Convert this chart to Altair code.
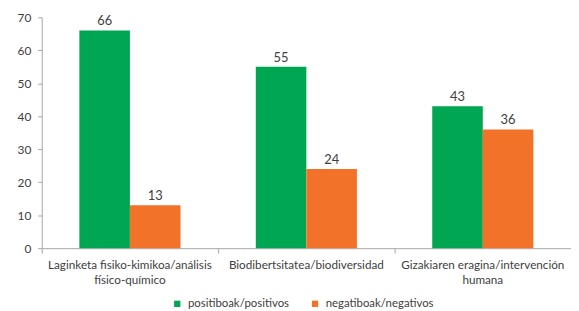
import altair as alt
import pandas as pd

categories = [
    "Laginketa fisiko-kimikoa/análisis\nfísico-químico",
    "Biodibertsitatea/biodiversidad",
    "Gizakiaren eragina/intervención\nhumana",
]
series = ["positiboak/positivos", "negatiboak/negativos"]
positive = [66, 55, 43]
negative = [13, 24, 36]
colors = ["#00A651", "#F37229"]

rows = []
for c, p, n in zip(categories, positive, negative):
    rows.append({"cat": c, "series": series[0], "value": p})
    rows.append({"cat": c, "series": series[1], "value": n})
df = pd.DataFrame(rows)

FONT = "Lato"
TXT = "#404040"

base = alt.Chart(df).encode(
    x=alt.X("cat:N", sort=categories, title=None,
            scale=alt.Scale(paddingInner=0, paddingOuter=0),
            axis=alt.Axis(labelAngle=0, bandPosition=0,
                          labelExpr="split(datum.label, '\\n')",
                          labelFontSize=11.8, labelColor=TXT, labelFont=FONT,
                          labelPadding=6, tickSize=5, tickColor="#A6A6A6",
                          domainColor="#A6A6A6", labelLineHeight=16)),
    xOffset=alt.XOffset("series:N", sort=series,
                        scale=alt.Scale(paddingInner=0, paddingOuter=0.745)),
    y=alt.Y("value:Q", title=None,
            scale=alt.Scale(domain=[0, 70]),
            axis=alt.Axis(values=[0, 10, 20, 30, 40, 50, 60, 70], grid=False,
                          labelFontSize=12, labelColor=TXT, labelFont=FONT,
                          tickSize=4, tickColor="#A6A6A6", domainColor="#A6A6A6",
                          labelPadding=7)),
)

bars = base.mark_bar().encode(
    color=alt.Color("series:N", sort=series,
                    scale=alt.Scale(domain=series, range=colors),
                    legend=alt.Legend(title=None, orient="none", direction="horizontal",
                                      legendX=131, legendY=283,
                                      symbolType="square", symbolSize=40,
                                      symbolStrokeWidth=0,
                                      labelFont=FONT, labelFontSize=11.5,
                                      labelColor=TXT, columnPadding=20,
                                      labelOffset=5))
)

texts = base.mark_text(dy=-9, font=FONT, fontSize=13, color=TXT).encode(
    text="value:Q"
)

chart = (bars + texts).properties(
    width=534, height=233,
    autosize=alt.AutoSizeParams(type="none"),
    padding={"left": 34, "top": 8, "right": 0, "bottom": 60},
).configure_view(stroke=None)

chart.save("out.html", embed_options={"renderer": "svg", "actions": False})
